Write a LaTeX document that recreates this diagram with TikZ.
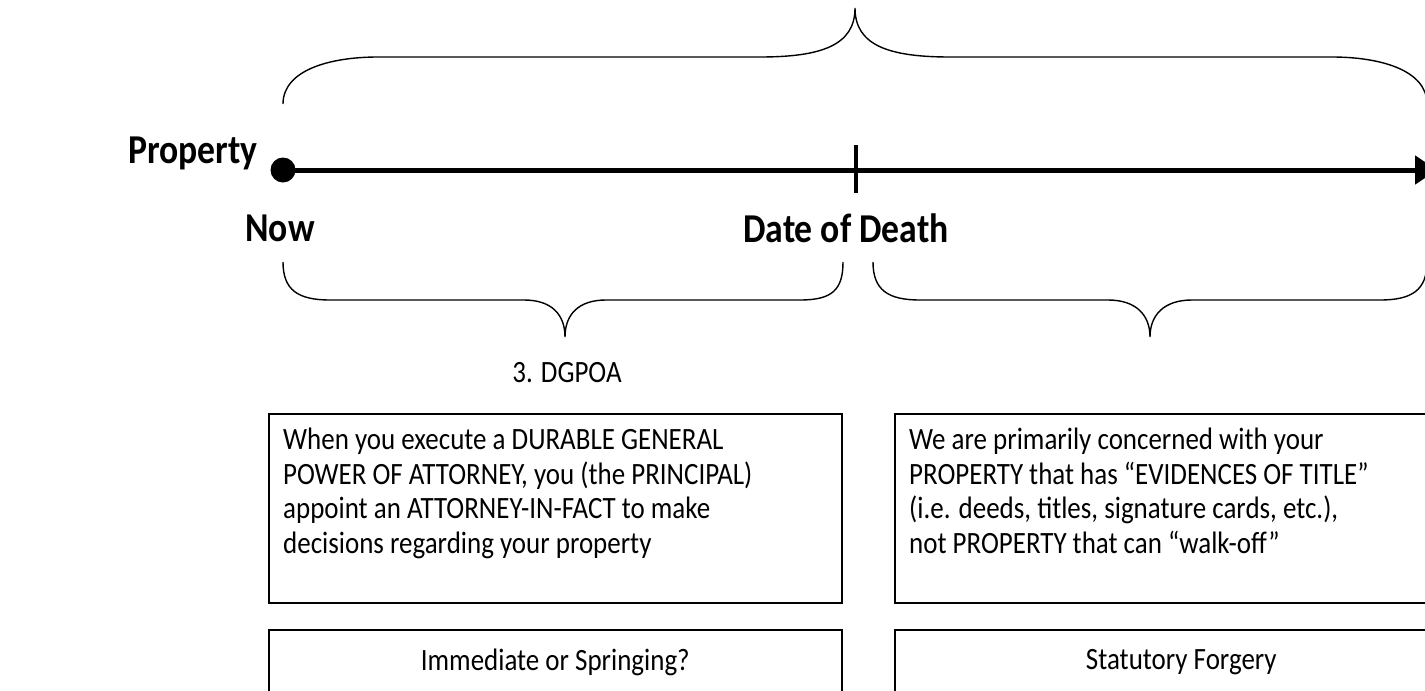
\documentclass[tikz,border=0pt]{standalone}
\usepackage{fontspec}
\setmainfont{Carlito}[FakeStretch=0.87]
\usetikzlibrary{arrows.meta, positioning}

\begin{document}
\begin{tikzpicture}[
  x=1pt, y=-1pt,
  brace/.style={draw=black, line width=1.4pt},
  box/.style={draw=black, line width=1.6pt, rectangle, anchor=north west,
              inner sep=0pt, minimum width=573pt},
  body/.style={font=\fontsize{31}{34.5}\selectfont},
  datelabel/.style={font=\fontsize{41}{45}\selectfont\bfseries},
  timeline/.style={-{Triangle[length=22pt, width=28pt]}, line width=5pt},
]
  \useasboundingbox (0,0) rectangle (1425,691);
  \clip (0,0) rectangle (1425,691);

  % Timeline
  \node[datelabel] (property) at (193,153) {Property};
  \node[circle, fill=black, minimum size=25pt, inner sep=0pt] (now) at (283,170) {};
  \coordinate (future) at (1437,170);
  \draw[timeline] (now.center) -- (future);
  \node[fill=black, minimum width=4pt, minimum height=48pt, inner sep=0pt] (death) at (856,169) {};

  \node[datelabel] (nowlbl) at (280,228) {Now};
  \node[datelabel] (deathlbl) at (846,228) {Date of Death};

  % Braces
  \draw[brace] (283,104) .. controls (283,70) and (330,57) .. (378,57) -- (760,57)
    .. controls (822,57) and (855,45) .. (855,8)
    .. controls (855,45) and (888,57) .. (950,57) -- (1332,57)
    .. controls (1380,57) and (1427,70) .. (1427,104);
  \draw[brace] (283,262) .. controls (283,290) and (298,300) .. (330,300) -- (524,300)
    .. controls (552,300) and (565,315) .. (565,337)
    .. controls (565,315) and (578,300) .. (606,300) -- (800,300)
    .. controls (832,300) and (843,290) .. (843,262);
  \draw[brace] (873,262) .. controls (873,290) and (888,300) .. (920,300) -- (1108,300)
    .. controls (1136,300) and (1150,315) .. (1150,337)
    .. controls (1150,315) and (1164,300) .. (1192,300) -- (1380,300)
    .. controls (1412,300) and (1427,290) .. (1427,262);

  \node[body] (dgpoa) at (567,373) {3. DGPOA};

  % Boxes
  \node[box, minimum height=189pt] (powerbox) at (268,413) {};
  \node[box, minimum height=189pt] (titlebox) at (894,413) {};
  \node[box, minimum height=100pt] (timingbox) at (268,629) {};
  \node[box, minimum height=100pt] (forgerybox) at (894,629) {};

  \node[body, anchor=north west, align=left, inner sep=0pt]
    (powertext) at ([xshift=15pt, yshift=-15pt]powerbox.north west)
    {When you execute a DURABLE GENERAL\\
     POWER OF ATTORNEY, you (the PRINCIPAL)\\
     appoint an ATTORNEY-IN-FACT to make\\
     decisions regarding your property};
  \node[body, anchor=north west, align=left, inner sep=0pt]
    (titletext) at ([xshift=15pt, yshift=-15pt]titlebox.north west)
    {We are primarily concerned with your\\
     PROPERTY that has “EVIDENCES OF TITLE”\\
     (i.e. deeds, titles, signature cards, etc.),\\
     not PROPERTY that can “walk-off”};
  \node[body] (timingtext) at ([yshift=-33pt]timingbox.north) {Immediate or Springing?};
  \node[body] (forgerytext) at ([yshift=-33pt]forgerybox.north) {Statutory Forgery};
\end{tikzpicture}
\end{document}
